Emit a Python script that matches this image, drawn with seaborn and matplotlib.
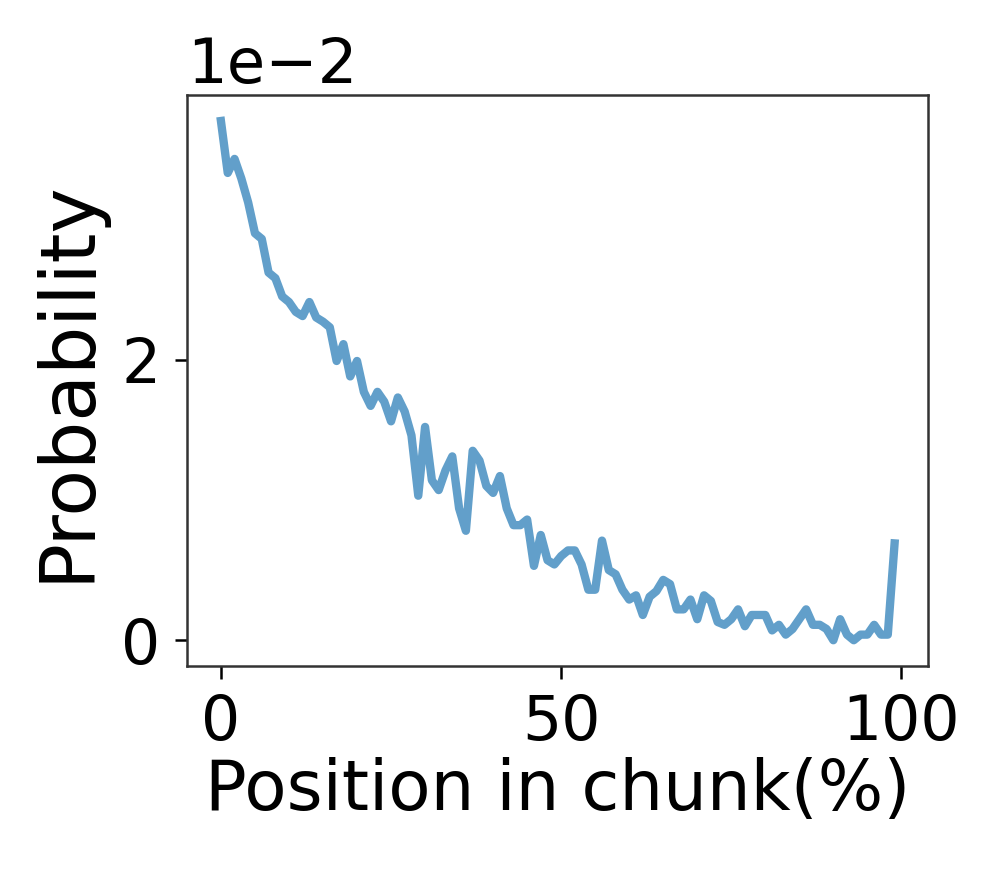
import matplotlib
matplotlib.use("Agg")
import matplotlib.pyplot as plt
import numpy as np
import pandas as pd
import seaborn as sns

# posição no chunk (%) e probabilidade (em unidades de 1e-2)
position = list(range(100))
prob_e2 = [
    3.70, 3.33, 3.43, 3.29, 3.12, 2.90, 2.86, 2.62, 2.58, 2.45,
    2.41, 2.34, 2.31, 2.41, 2.30, 2.27, 2.23, 1.99, 2.11, 1.88,
    1.99, 1.77, 1.67, 1.77, 1.70, 1.56, 1.73, 1.63, 1.46, 1.03,
    1.52, 1.14, 1.07, 1.21, 1.31, 0.94, 0.78, 1.35, 1.28, 1.10,
    1.05, 1.17, 0.94, 0.82, 0.82, 0.86, 0.53, 0.75, 0.57, 0.54,
    0.60, 0.64, 0.64, 0.54, 0.36, 0.36, 0.71, 0.50, 0.47, 0.36,
    0.29, 0.32, 0.18, 0.31, 0.35, 0.43, 0.40, 0.22, 0.22, 0.29,
    0.15, 0.32, 0.28, 0.13, 0.11, 0.15, 0.22, 0.10, 0.18, 0.18,
    0.18, 0.07, 0.11, 0.04, 0.08, 0.15, 0.22, 0.11, 0.11, 0.08,
    0.00, 0.15, 0.04, 0.00, 0.04, 0.04, 0.11, 0.04, 0.04, 0.69,
]

df = pd.DataFrame({"position": position, "prob": np.array(prob_e2) * 1e-2})

fig = plt.figure(figsize=(3.32, 2.9067), dpi=300)
ax = fig.add_axes([0.188, 0.236, 0.744, 0.655])

sns.lineplot(data=df, x="position", y="prob", ax=ax, color="tab:blue",
             alpha=0.7, linewidth=2.0)

ax.set_xticks([0, 50, 100])
ax.set_yticks([0, 0.02])
ax.ticklabel_format(axis="y", style="sci", scilimits=(0, 0))
ax.yaxis.get_offset_text().set_fontsize(15)
ax.tick_params(labelsize=14.8, width=0.6, length=3)
for s in ax.spines.values():
    s.set_linewidth(0.6)
    s.set_color("#333333")

ax.set_xlabel("Position in chunk(%)", fontsize=16.6, labelpad=1)
ax.set_ylabel("Probability", fontsize=18.3, labelpad=4)

fig.savefig("out.png", dpi=300)
